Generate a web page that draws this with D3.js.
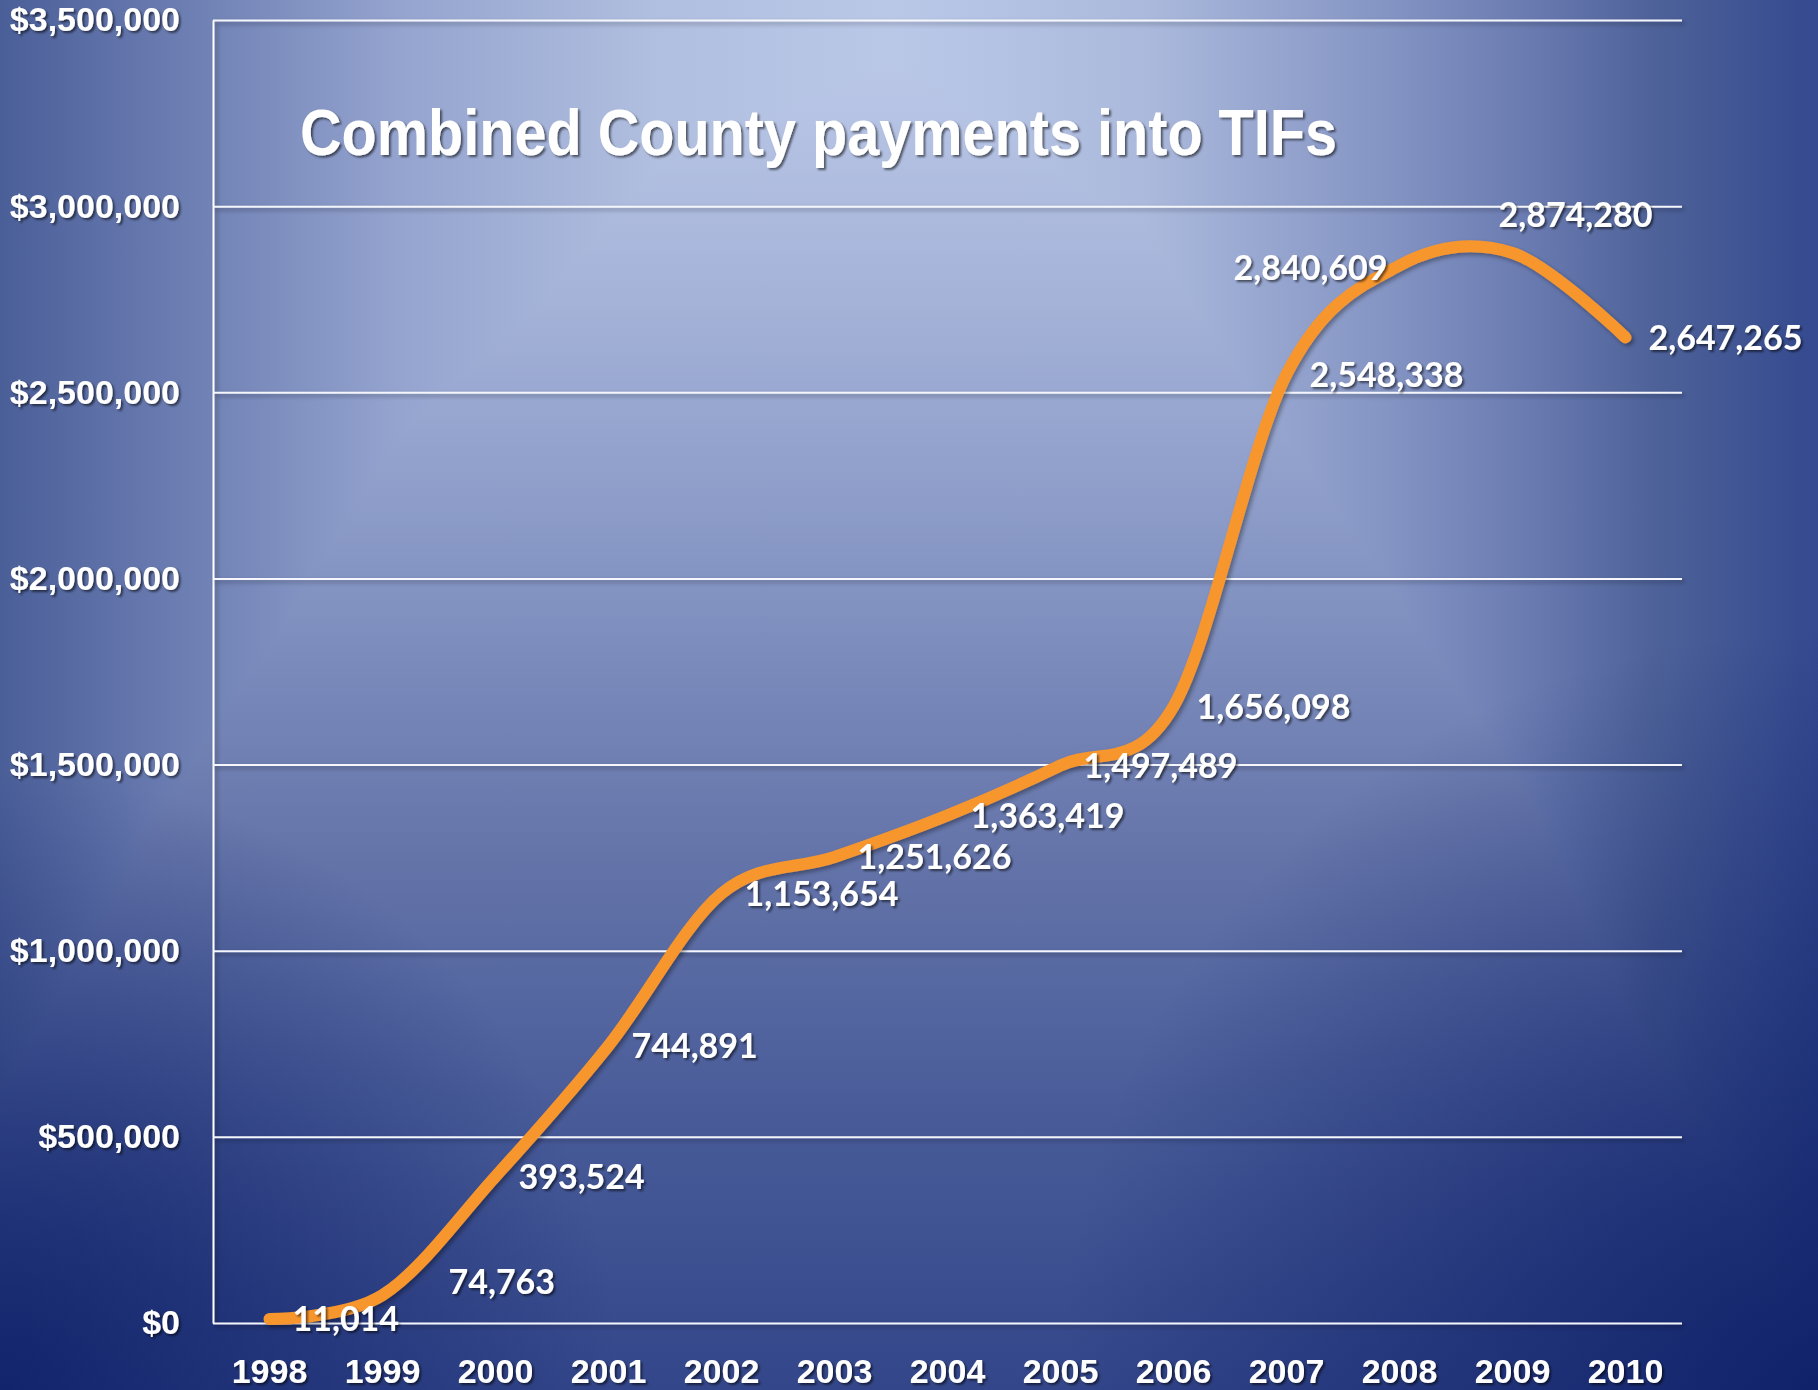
<!DOCTYPE html>
<html>
<head>
<meta charset="utf-8">
<script src="https://cdn.jsdelivr.net/npm/d3@7"></script>
<style>
    html, body { margin: 0; padding: 0; background: #3a4e8e; }
    svg { display: block; }
</style>
</head>
<body>
<svg id="chart" width="1818" height="1390"></svg>
<script>
const years = [ '1998', '1999', '2000', '2001', '2002', '2003', '2004', '2005', '2006', '2007', '2008', '2009', '2010' ]
const payments = [ 11014, 74763, 393524, 744891, 1153654, 1251626, 1363419, 1497489, 1656098, 2548338, 2840609, 2874280, 2647265 ]
const yTicks = [ 0, 500000, 1000000, 1500000, 2000000, 2500000, 3000000, 3500000 ]
const title = 'Combined County payments into TIFs'

const width = 1818,
      height = 1390,
      plot = { left: 213, right: 1682, top: 20, bottom: 1323 }

const svg = d3.select( '#chart' )
const defs = svg.append( 'defs' )

const gradient = ( id, type, attrs, stops ) => {
    const g = defs.append( type ).attr( 'id', id ).attr( 'gradientUnits', 'userSpaceOnUse' )
    Object.entries( attrs ).forEach( ( [ k, v ] ) => g.attr( k, v ) )
    stops.forEach( ( [ o, c, op ] ) =>
        g.append( 'stop' ).attr( 'offset', o ).attr( 'stop-color', c ).attr( 'stop-opacity', op === undefined ? 1 : op ) )
}

// slide background: light glow top centre, darker to the sides and bottom, navy corners
gradient( 'bgH', 'linearGradient', { x1: 0, y1: 0, x2: width, y2: 0 }, [
    [ 0, '#4a5e98' ], [ 0.08, '#6577ad' ], [ 0.22, '#95a4cf' ], [ 0.36, '#b0bedf' ], [ 0.49, '#bac8e8' ],
    [ 0.63, '#abb9dc' ], [ 0.76, '#8595c4' ], [ 0.84, '#6a7bb1' ], [ 0.91, '#4e6299' ], [ 1, '#34498f' ]
] )
gradient( 'bgV', 'linearGradient', { x1: 0, y1: 0, x2: 0, y2: height }, [
    [ 0, '#c0cdeb' ], [ 0.22, '#a4b2d8' ], [ 0.43, '#8292c1' ], [ 0.61, '#6575aa' ],
    [ 0.79, '#4a5d9a' ], [ 0.93, '#3a4d8e' ], [ 1, '#33468a' ]
] )
gradient( 'vigL', 'radialGradient', { cx: 0, cy: height, r: 620 }, [
    [ 0, '#0c1e66', 0.85 ], [ 1, '#0c1e66', 0 ]
] )
gradient( 'vigR', 'radialGradient', { cx: width, cy: height, r: 760 }, [
    [ 0, '#0c1e66', 0.9 ], [ 1, '#0c1e66', 0 ]
] )

const bg = svg.append( 'g' ).style( 'isolation', 'isolate' )
bg.append( 'rect' ).attr( 'width', width ).attr( 'height', height ).attr( 'fill', 'url(#bgH)' )
bg.append( 'rect' ).attr( 'width', width ).attr( 'height', height ).attr( 'fill', 'url(#bgV)' )
    .style( 'mix-blend-mode', 'darken' )
bg.append( 'rect' ).attr( 'width', width ).attr( 'height', height ).attr( 'fill', 'url(#vigL)' )
bg.append( 'rect' ).attr( 'width', width ).attr( 'height', height ).attr( 'fill', 'url(#vigR)' )

// drop shadows, text ones sized to the text box, line one in user space so flat lines still draw
defs.append( 'filter' )
    .attr( 'id', 'txt' )
    .attr( 'x', '-10%' ).attr( 'y', '-30%' ).attr( 'width', '130%' ).attr( 'height', '170%' )
    .append( 'feDropShadow' )
    .attr( 'dx', 2 ).attr( 'dy', 2 ).attr( 'stdDeviation', 1.2 )
    .attr( 'flood-color', '#000' ).attr( 'flood-opacity', 0.55 )

defs.append( 'filter' )
    .attr( 'id', 'ln' )
    .attr( 'filterUnits', 'userSpaceOnUse' )
    .attr( 'x', -2500 ).attr( 'y', -500 ).attr( 'width', 5000 ).attr( 'height', 2500 )
    .append( 'feDropShadow' )
    .attr( 'dx', 2.5 ).attr( 'dy', 2.5 ).attr( 'stdDeviation', 2 )
    .attr( 'flood-color', '#000' ).attr( 'flood-opacity', 0.35 )

const x = d3.scaleBand()
    .domain( years )
    .range( [ plot.left, plot.right ] )

const y = d3.scaleLinear()
    .domain( [ 0, 3500000 ] )
    .range( [ plot.bottom, plot.top ] )

const cx = year => x( year ) + x.bandwidth() / 2

const axisFont = sel => sel
    .attr( 'fill', '#fff' )
    .attr( 'font-family', '"Liberation Sans", Arial, sans-serif' )
    .attr( 'font-weight', 'bold' )
    .attr( 'font-size', 34 )
    .attr( 'filter', 'url(#txt)' )

// y axis with gridlines
const yAxis = svg.append( 'g' )
    .attr( 'transform', `translate( ${plot.left}, 0 )` )
    .call(
        d3.axisLeft( y )
        .tickValues( yTicks )
        .tickFormat( d3.format( '$,' ) )
        .tickSizeInner( -( plot.right - plot.left ) )
        .tickSizeOuter( 0 )
        .tickPadding( 33 )
    )

yAxis.select( '.domain' )
    .attr( 'stroke', '#fff' )
    .attr( 'stroke-width', 2 )
    .attr( 'filter', 'url(#ln)' )

yAxis.selectAll( '.tick line' )
    .attr( 'stroke', '#f4f6fb' )
    .attr( 'stroke-width', 2 )
    .attr( 'filter', 'url(#ln)' )

yAxis.selectAll( '.tick text' ).call( axisFont )

// x axis, labels only
const xAxis = svg.append( 'g' )
    .attr( 'transform', `translate( 0, ${plot.bottom} )` )
    .call( d3.axisBottom( x ).tickSize( 0 ).tickPadding( 36 ) )

xAxis.select( '.domain' ).remove()
xAxis.selectAll( '.tick text' ).call( axisFont )

// smoothed line, same as the office "smoothed line" option
const line = d3.line()
    .x( ( d, i ) => cx( years[i] ) )
    .y( d => y( d ) )
    .curve( d3.curveCardinal.tension( 0 ) )

svg.append( 'path' )
    .datum( payments )
    .attr( 'd', line )
    .attr( 'fill', 'none' )
    .attr( 'stroke', '#f8962f' )
    .attr( 'stroke-width', 12 )
    .attr( 'stroke-linecap', 'round' )
    .attr( 'stroke-linejoin', 'round' )
    .attr( 'filter', 'url(#ln)' )

// labels sit to the right of the point, a few were dragged by hand
const nudge = {
    '1999': { dx: 66, dy: -13 },
    '2008': { dx: -12, dy: 2, anchor: 'end' },
    '2009': { dx: -14, dy: -38 }
}

svg.append( 'g' )
    .selectAll( 'text' )
    .data( payments )
    .join( 'text' )
    .each( function( d, i ) {
        const n = nudge[ years[i] ] || { dx: 23, dy: 0 }
        d3.select( this )
            .attr( 'x', cx( years[i] ) + n.dx )
            .attr( 'y', y( d ) + n.dy )
            .attr( 'text-anchor', n.anchor || 'start' )
    } )
    .attr( 'dy', '0.36em' )
    .attr( 'fill', '#fff' )
    .attr( 'font-family', 'Lato, "Open Sans", sans-serif' )
    .attr( 'font-weight', 'bold' )
    .attr( 'font-size', 34 )
    .attr( 'filter', 'url(#txt)' )
    .text( d => d3.format( ',' )( d ) )

svg.append( 'text' )
    .attr( 'x', 300 )
    .attr( 'y', 155 )
    .attr( 'fill', '#fff' )
    .attr( 'font-family', '"Liberation Sans", Arial, sans-serif' )
    .attr( 'font-weight', 'bold' )
    .attr( 'font-size', 64 )
    .attr( 'textLength', 1037 )
    .attr( 'lengthAdjust', 'spacingAndGlyphs' )
    .attr( 'filter', 'url(#txt)' )
    .text( title )
</script>
</body>
</html>
